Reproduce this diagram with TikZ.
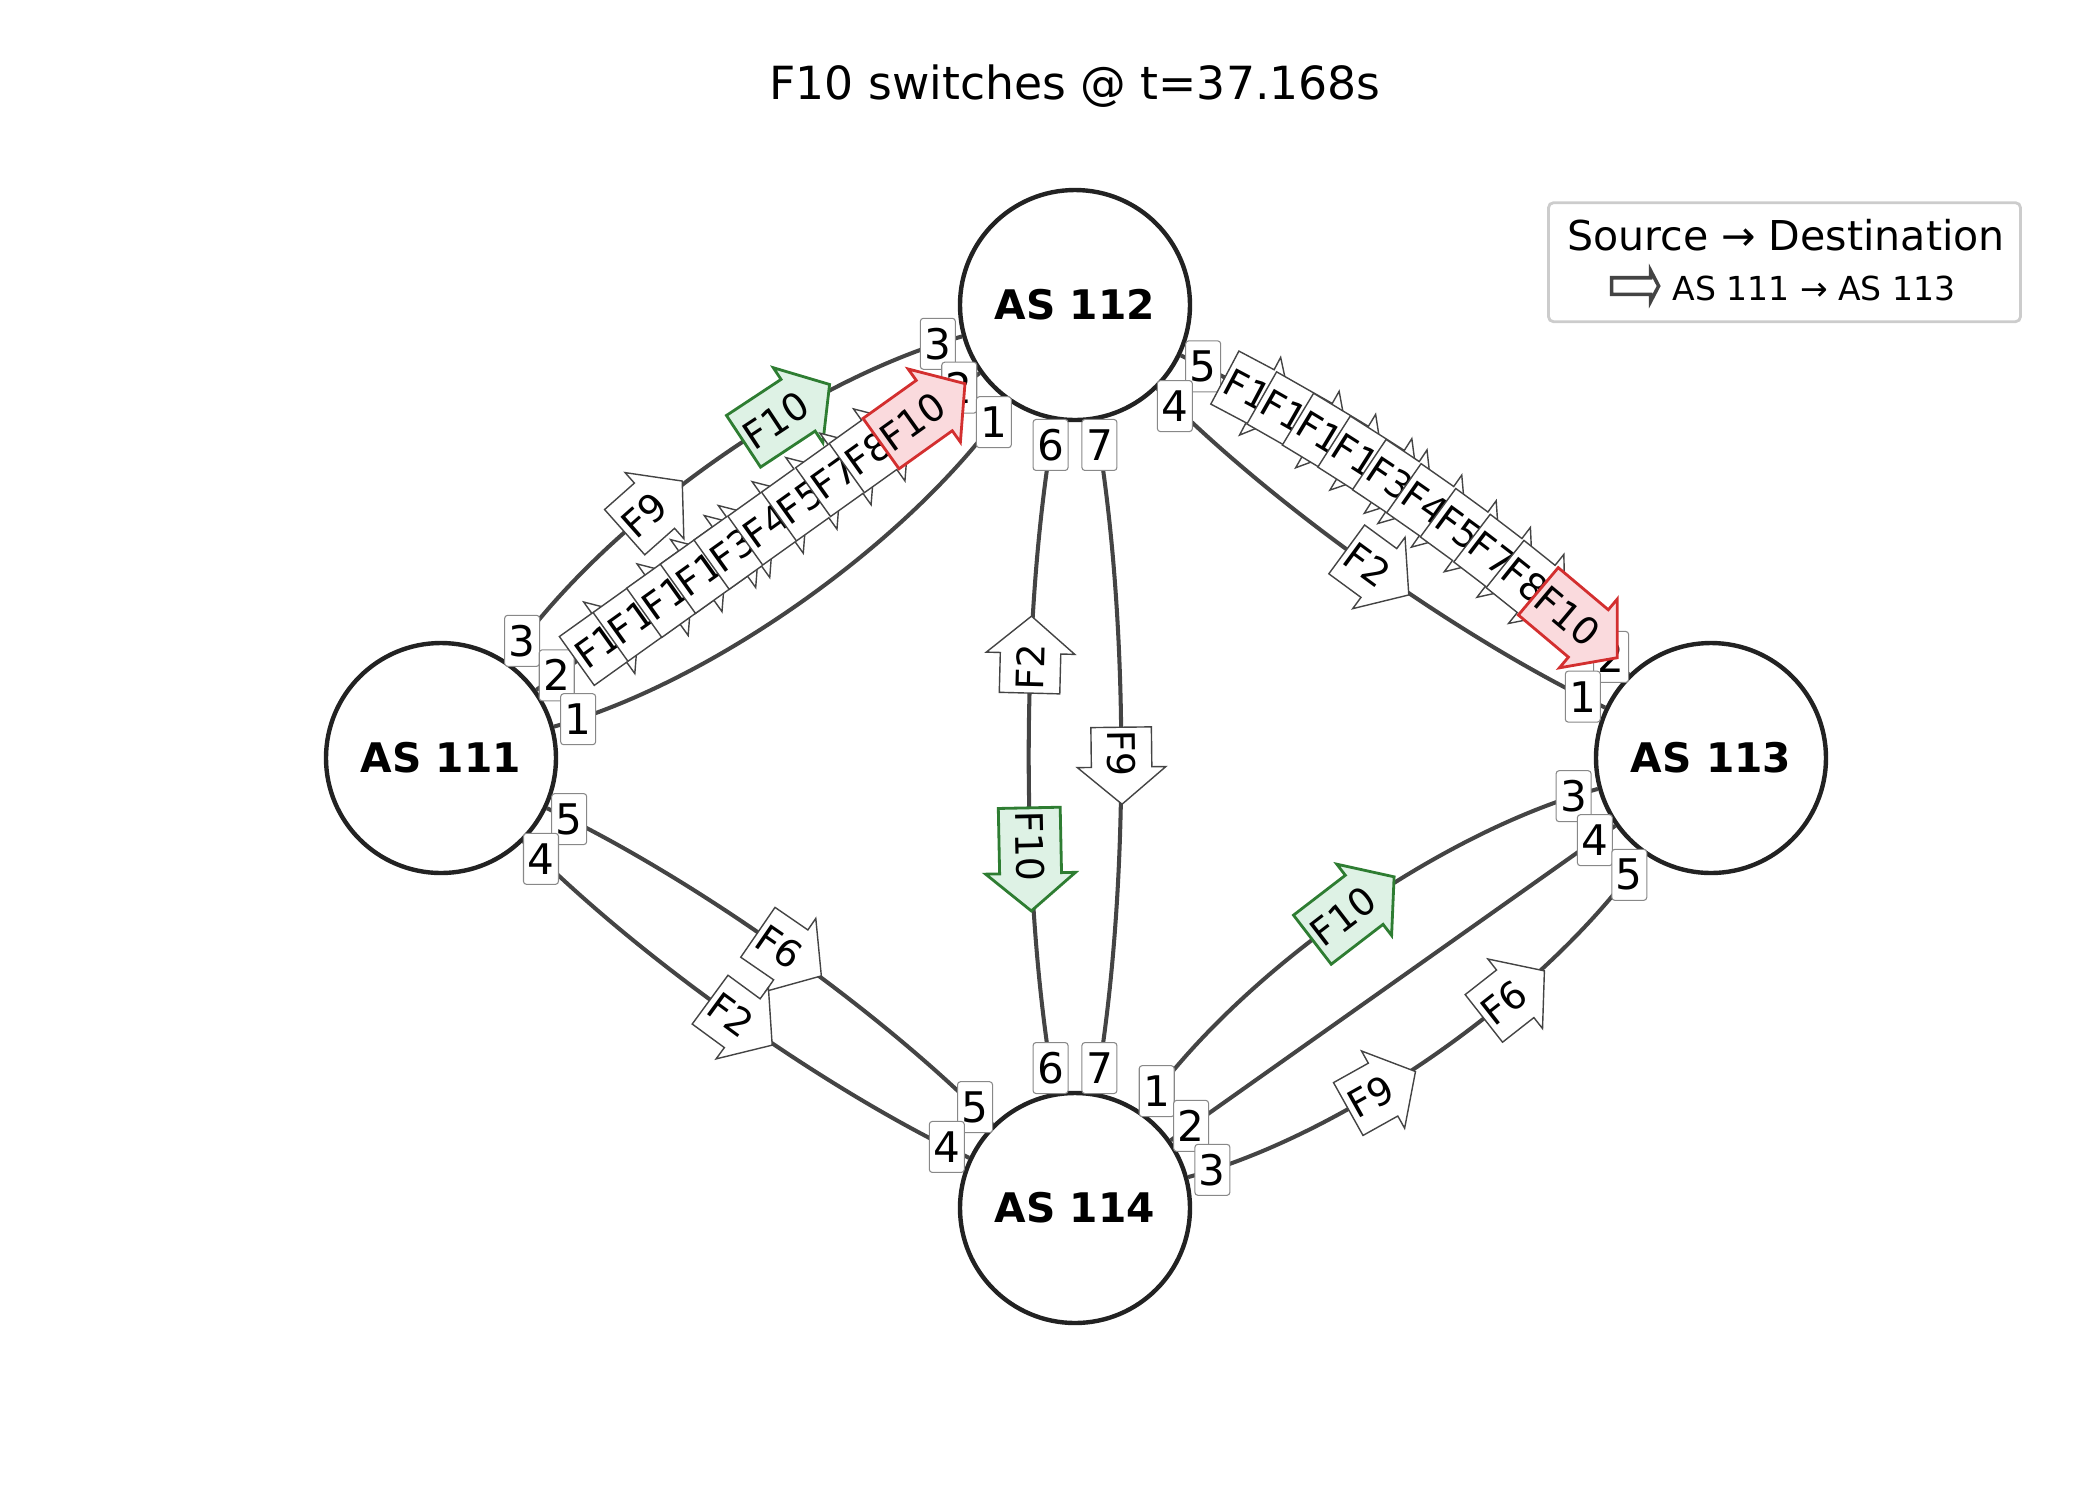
\documentclass[tikz,border=0pt]{standalone}
\usepackage{fontspec}
\setmainfont{DejaVu Sans}
\usepackage{tikz}
\usetikzlibrary{shapes.arrows}

\definecolor{ink}{RGB}{34,34,34}
\definecolor{wire}{RGB}{68,68,68}
\definecolor{portline}{RGB}{136,136,136}
\definecolor{keyline}{RGB}{204,204,204}
\definecolor{okgreen}{RGB}{46,125,50}
\definecolor{okfill}{RGB}{222,242,229}
\definecolor{badred}{RGB}{211,47,47}
\definecolor{badfill}{RGB}{250,218,221}

\tikzset{
	asnode/.style={circle, draw=ink, line width=1.25pt, fill=white, minimum size=2.3cm, inner sep=0pt, font=\bfseries\fontsize{11.6}{14}\selectfont},
	link/.style={draw=wire, line width=1.15pt, looseness=0.76},
	port/.style={draw=portline, fill=white, line width=0.3pt, rounded corners=0.03cm, minimum width=0.35cm, minimum height=0.51cm, inner sep=0pt, font=\fontsize{12}{14}\selectfont},
	flow/.style={single arrow, draw=wire, fill=white, line width=0.4pt, sloped, allow upside down, anchor=tail, inner xsep=0.6pt, inner ysep=4.4pt, text depth=0pt, single arrow head extend=0.14cm, single arrow tip angle=100, font=\fontsize{10.8}{13}\selectfont},
	newflow/.style={flow, draw=okgreen, fill=okfill, line width=0.8pt},
	oldflow/.style={flow, draw=badred, fill=badfill, line width=0.8pt},
	keyarrow/.style={single arrow, draw=wire, fill=white, line width=1pt, inner xsep=0pt, inner ysep=0.065cm, minimum height=0.47cm, single arrow head extend=0.07cm, single arrow tip angle=125},
}

\begin{document}
\begin{tikzpicture}

	\useasboundingbox (0,0) rectangle (21,-15);

	\node[font=\fontsize{13}{16}\selectfont] (title) at (10.75,-0.86) {F10 switches @ t=37.168s};

	\node[asnode] (as111) at (4.41,-7.58) {AS 111};
	\node[asnode] (as112) at (10.75,-3.05) {AS 112};
	\node[asnode] (as113) at (17.11,-7.58) {AS 113};
	\node[asnode] (as114) at (10.75,-12.08) {AS 114};

	\draw[link] (as111) to[bend left=20] node[port,pos=.05]{3} node[port,pos=.95]{3}
		node[flow,pos=.317]{F9} node[newflow,pos=.565]{F10} (as112);
	\draw[link] (as111) -- node[port,pos=.046]{2} node[port,pos=.954]{2}
		node[flow,pos=.090]{F1} node[flow,pos=.166]{F11} node[flow,pos=.242]{F12}
		node[flow,pos=.318]{F13} node[flow,pos=.394]{F3} node[flow,pos=.470]{F4}
		node[flow,pos=.546]{F5} node[flow,pos=.623]{F7} node[flow,pos=.699]{F8}
		node[oldflow,pos=.775]{F10} (as112);
	\draw[link] (as111) to[bend right=20] node[port,pos=.05]{1} node[port,pos=.95]{1} (as112);

	\draw[link] (as112) to[bend left=10] node[port,pos=.05]{5} node[port,pos=.95]{2}
		node[flow,pos=.096]{F1} node[flow,pos=.175]{F11} node[flow,pos=.251]{F12}
		node[flow,pos=.326]{F13} node[flow,pos=.399]{F3} node[flow,pos=.471]{F4}
		node[flow,pos=.543]{F5} node[flow,pos=.616]{F7} node[flow,pos=.689]{F8}
		node[oldflow,pos=.764]{F10} (as113);
	\draw[link] (as112) to[bend right=10] node[port,pos=.05]{4} node[port,pos=.95]{1}
		node[flow,pos=.452]{F2} (as113);

	\draw[link] (as112) to[bend right=10] node[port,pos=.041]{6} node[port,pos=.959]{6}
		node[flow,rotate=180,pos=.412]{F2} node[newflow,pos=.57]{F10} (as114);
	\draw[link] (as112) to[bend left=10] node[port,pos=.041]{7} node[port,pos=.959]{7}
		node[flow,pos=.458]{F9} (as114);

	\draw[link] (as111) to[bend left=10] node[port,pos=.05]{5} node[port,pos=.95]{5}
		node[flow,pos=.448]{F6} (as114);
	\draw[link] (as111) to[bend right=10] node[port,pos=.05]{4} node[port,pos=.95]{4}
		node[flow,pos=.448]{F2} (as114);

	\draw[link] (as114) to[bend left=20] node[port,pos=.05]{1} node[port,pos=.95]{3}
		node[newflow,pos=.43]{F10} (as113);
	\draw[link] (as114) -- node[port,pos=.046]{2} node[port,pos=.954]{4} (as113);
	\draw[link] (as114) to[bend right=20] node[port,pos=.05]{3} node[port,pos=.95]{5}
		node[flow,pos=.316]{F9} node[flow,pos=.588]{F6} (as113);

	\node[draw=keyline, line width=0.8pt, fill=white, rounded corners=0.05cm, minimum width=4.72cm, minimum height=1.19cm] (key) at (17.845,-2.622) {};
	\node[font=\fontsize{11.7}{14}\selectfont] (keyhead) at (17.86,-2.35) {Source → Destination};
	\node[keyarrow] (keyicon) at (16.33,-2.86) {};
	\node[font=\fontsize{9.4}{11}\selectfont] (keytext) at (18.14,-2.885) {AS 111 → AS 113};

\end{tikzpicture}
\end{document}
